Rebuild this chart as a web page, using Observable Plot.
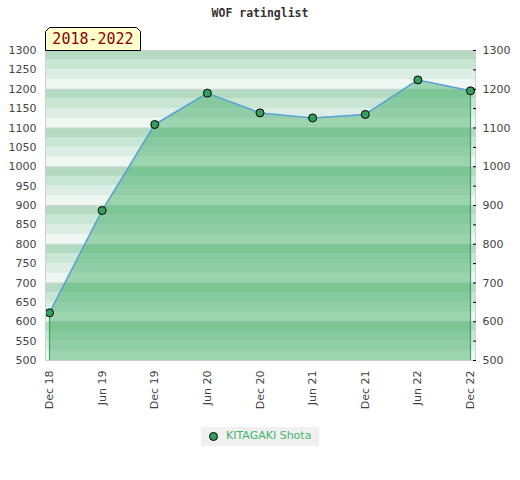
<!DOCTYPE html>
<html>
<head>
<meta charset="utf-8">
<script src="https://cdn.jsdelivr.net/npm/d3@7"></script>
<script src="https://cdn.jsdelivr.net/npm/@observablehq/plot@0.6"></script>
<style>
  html, body { margin: 0; padding: 0; background: #fff; }
  #wrap { position: relative; width: 520px; height: 480px; overflow: hidden; }
  #chart { position: absolute; left: 0; top: 0; }
  #title { position: absolute; left: 0; width: 520px; top: 6px; text-align: center;
    font: bold 11.5px "DejaVu Sans Mono", monospace; color: #333; }
  #period { position: absolute; left: 45px; top: 27px; width: 96px; height: 24px; }
  #period svg { position: absolute; left: 0; top: 0; }
  #period span { position: absolute; left: 0; width: 96px; top: 3px; text-align: center;
    font: 15px "DejaVu Sans Mono", monospace; color: #8b0000; }
  #legend { position: absolute; left: 201px; top: 427px; width: 118px; height: 19px; background: #f0f0f0;
    font: 11px "DejaVu Sans", sans-serif; color: #45b56c; }
  #legend .dot { position: absolute; left: 8px; top: 5px; width: 7px; height: 7px; border-radius: 50%;
    background: #33a05c; border: 1px solid #000; }
  #legend .txt { position: absolute; left: 25px; top: 2px; }
</style>
</head>
<body>
<div id="wrap">
  <div id="chart"></div>
  <div id="title">WOF ratinglist</div>
  <div id="period">
    <svg width="96" height="24"><polygon points="0.5,23.5 0.5,4.5 4.5,0.5 91.5,0.5 95.5,4.5 95.5,23.5" fill="#ffffcc" stroke="#000" stroke-width="1"/></svg>
    <span>2018-2022</span>
  </div>
  <div id="legend"><div class="dot"></div><div class="txt">KITAGAKI Shota</div></div>
</div>
<script>
const dates = ["Dec 18", "Jun 19", "Dec 19", "Jun 20", "Dec 20", "Jun 21", "Dec 21", "Jun 22", "Dec 22"];
const ratings = [623, 887, 1109, 1190, 1139, 1126, 1135, 1224, 1196];
const yMin = 500, yMax = 1300;
const leftTicks = d3.range(500, 1301, 50);
const rightLabelTicks = d3.range(500, 1301, 100);
const stripeShades = ["#eef7f1", "#dcede3", "#c9e5d3", "#b4dbc1"]; // by position within each 100 block

const data = dates.map((d, i) => ({i, date: d, rating: ratings[i]}));
const stripes = d3.range(yMin, yMax, 25).map(v => ({lo: v, hi: v + 25, fill: stripeShades[(v % 100) / 25]}));
const ends = [data[0], data[data.length - 1]];
const fmt = d3.format("d");

const chart = Plot.plot({
  width: 520,
  height: 420,
  marginTop: 50,
  marginBottom: 60,
  marginLeft: 45,
  marginRight: 45,
  style: {fontFamily: "DejaVu Sans, sans-serif", fontSize: "11px", color: "#444", background: "transparent"},
  x: {type: "linear", domain: [0, dates.length - 1], insetLeft: 4, insetRight: 5},
  y: {domain: [yMin, yMax]},
  color: {type: "identity"},
  marks: [
    Plot.rect(stripes, {y1: "lo", y2: "hi", fill: "fill"}),
    Plot.ruleY(d3.range(600, 1300, 100), {stroke: "#cfd8d2", strokeWidth: 1}),
    Plot.areaY(data, {x: "i", y1: yMin, y2: "rating", fill: "#3eac64", fillOpacity: 0.47}),
    Plot.ruleX(ends, {x: "i", y1: yMin, y2: "rating", stroke: "#34a95e", strokeWidth: 1.2}),
    Plot.lineY(data, {x: "i", y: "rating", stroke: "#5aa2da", strokeWidth: 1.5}),
    Plot.dot(data, {x: "i", y: "rating", r: 4, fill: "#33a05c", stroke: "#000", strokeWidth: 1}),
    Plot.frame({stroke: "#cfcfcf"}),
    Plot.axisY({anchor: "left", ticks: leftTicks, tickFormat: fmt, tickSize: 0, tickPadding: 9, label: null}),
    Plot.axisY({anchor: "right", ticks: leftTicks, tickSize: -3, tickFormat: () => "", label: null, stroke: "#000"}),
    Plot.axisY({anchor: "right", ticks: rightLabelTicks, tickFormat: fmt, tickSize: 0, tickPadding: 7, label: null}),
    Plot.axisX({anchor: "bottom", ticks: d3.range(dates.length), tickFormat: i => dates[i], tickRotate: -90, tickSize: 0, tickPadding: 10, label: null})
  ]
});
document.getElementById("chart").appendChild(chart);
</script>
</body>
</html>
